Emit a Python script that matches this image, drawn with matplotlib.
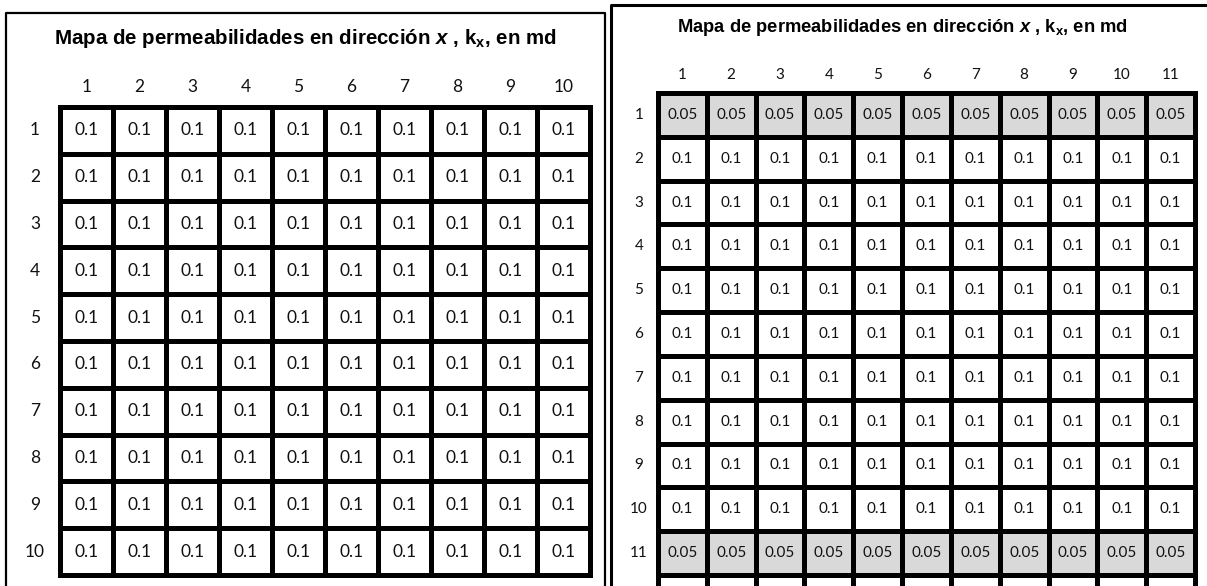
import matplotlib
matplotlib.use('Agg')
import matplotlib.pyplot as plt
from matplotlib.patches import Rectangle
from matplotlib.lines import Line2D

plt.rcParams['mathtext.fontset'] = 'custom'
plt.rcParams['mathtext.rm'] = 'Liberation Sans:bold'
plt.rcParams['mathtext.bf'] = 'Liberation Sans:bold'
plt.rcParams['mathtext.it'] = 'Liberation Sans:italic:bold'

# permeability maps (md)
kx_izq = [
    [0.1, 0.1, 0.1, 0.1, 0.1, 0.1, 0.1, 0.1, 0.1, 0.1],
    [0.1, 0.1, 0.1, 0.1, 0.1, 0.1, 0.1, 0.1, 0.1, 0.1],
    [0.1, 0.1, 0.1, 0.1, 0.1, 0.1, 0.1, 0.1, 0.1, 0.1],
    [0.1, 0.1, 0.1, 0.1, 0.1, 0.1, 0.1, 0.1, 0.1, 0.1],
    [0.1, 0.1, 0.1, 0.1, 0.1, 0.1, 0.1, 0.1, 0.1, 0.1],
    [0.1, 0.1, 0.1, 0.1, 0.1, 0.1, 0.1, 0.1, 0.1, 0.1],
    [0.1, 0.1, 0.1, 0.1, 0.1, 0.1, 0.1, 0.1, 0.1, 0.1],
    [0.1, 0.1, 0.1, 0.1, 0.1, 0.1, 0.1, 0.1, 0.1, 0.1],
    [0.1, 0.1, 0.1, 0.1, 0.1, 0.1, 0.1, 0.1, 0.1, 0.1],
    [0.1, 0.1, 0.1, 0.1, 0.1, 0.1, 0.1, 0.1, 0.1, 0.1],
]
kx_der = [
    [0.05, 0.05, 0.05, 0.05, 0.05, 0.05, 0.05, 0.05, 0.05, 0.05, 0.05],
    [0.1, 0.1, 0.1, 0.1, 0.1, 0.1, 0.1, 0.1, 0.1, 0.1, 0.1],
    [0.1, 0.1, 0.1, 0.1, 0.1, 0.1, 0.1, 0.1, 0.1, 0.1, 0.1],
    [0.1, 0.1, 0.1, 0.1, 0.1, 0.1, 0.1, 0.1, 0.1, 0.1, 0.1],
    [0.1, 0.1, 0.1, 0.1, 0.1, 0.1, 0.1, 0.1, 0.1, 0.1, 0.1],
    [0.1, 0.1, 0.1, 0.1, 0.1, 0.1, 0.1, 0.1, 0.1, 0.1, 0.1],
    [0.1, 0.1, 0.1, 0.1, 0.1, 0.1, 0.1, 0.1, 0.1, 0.1, 0.1],
    [0.1, 0.1, 0.1, 0.1, 0.1, 0.1, 0.1, 0.1, 0.1, 0.1, 0.1],
    [0.1, 0.1, 0.1, 0.1, 0.1, 0.1, 0.1, 0.1, 0.1, 0.1, 0.1],
    [0.1, 0.1, 0.1, 0.1, 0.1, 0.1, 0.1, 0.1, 0.1, 0.1, 0.1],
    [0.05, 0.05, 0.05, 0.05, 0.05, 0.05, 0.05, 0.05, 0.05, 0.05, 0.05],
]
titulo = r'Mapa de permeabilidades en dirección $\mathit{x}$ , k$_\mathrm{x}$, en md'

W, H = 1207, 586
fig = plt.figure(figsize=(W / 100, H / 100), dpi=100)


def px_axes(x0, y0, x1, y1):
    return fig.add_axes([x0 / W, 1 - y1 / H, (x1 - x0) / W, (y1 - y0) / H])


def draw_map(ax, data, fs, lab_dx, lab_dy, extra=0.0):
    nr = len(data)
    nc = len(data[0])
    ax.set_xlim(0, nc)
    ax.set_ylim(nr, 0)
    ax.axis('off')
    for i, row in enumerate(data):
        for j, v in enumerate(row):
            fc = '#d9d9d9' if v < 0.1 else 'white'
            ax.add_patch(Rectangle((j, i), 1, 1, facecolor=fc, edgecolor='black',
                                   lw=3.6, clip_on=False))
            ax.text(j + 0.5, i + 0.5, str(v), ha='center', va='center',
                    fontsize=fs, family='Lato', color='#111111')
    for j in range(nc):
        ax.text(j + 0.5, lab_dy, str(j + 1), ha='center', va='center',
                fontsize=fs, family='Lato', color='#111111', clip_on=False)
    for i in range(nr):
        ax.text(lab_dx, i + 0.5, str(i + 1), ha='center', va='center',
                fontsize=fs, family='Lato', color='#111111', clip_on=False)
    if extra:
        ax.vlines(range(nc + 1), nr, nr + extra, color='black', lw=3.6, clip_on=False)


ax1 = px_axes(60, 107, 590, 575)
draw_map(ax1, kx_izq, 12.5, -0.47, -0.43)
ax2 = px_axes(658, 93, 1195, 575)
draw_map(ax2, kx_der, 11, -0.39, -0.41, extra=0.3)

fig.text(305 / W, 1 - 38 / H, titulo, ha='center', va='center', fontsize=14.8,
         family='Liberation Sans', weight='bold')
fig.text(902 / W, 1 - 28 / H, titulo, ha='center', va='center', fontsize=13.2,
         family='Liberation Sans', weight='bold')

# panel frames
def fline(xs, ys, lw):
    fig.add_artist(Line2D([x / W for x in xs], [1 - y / H for y in ys],
                          color='black', lw=lw))


fline([6, 6, 605, 605], [H, 13, 13, H], 1.6)
fline([611, 611, W], [H, 5, 5], 2.2)

fig.savefig('out.png', dpi=100)
